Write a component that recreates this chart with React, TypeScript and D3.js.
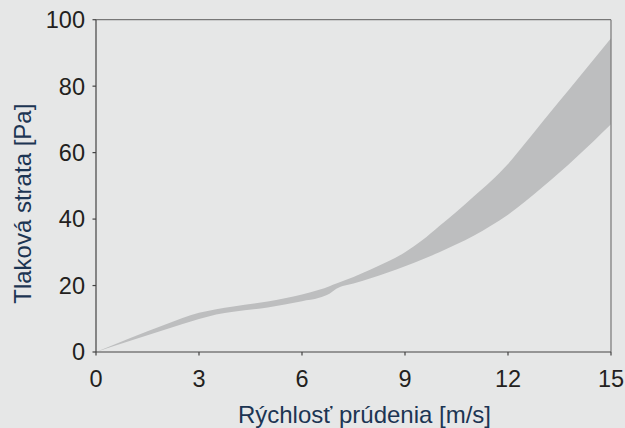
import React from "react";
import * as d3 from "d3";

const speeds = [0, 1, 2, 3, 3.5, 4, 5, 6, 6.5, 6.8, 7, 7.5, 8, 8.5, 9, 9.5, 10, 10.5, 11, 11.5, 12, 12.5, 13, 13.5, 14, 14.5, 15];
const upperLoss = [0, 4.2, 8.2, 11.8, 12.9, 13.7, 15.2, 17.3, 18.7, 19.8, 20.6, 22.6, 24.8, 27.2, 30.0, 33.6, 37.9, 42.2, 46.8, 51.4, 56.6, 62.8, 69.2, 75.5, 81.8, 88.1, 94.4];
const lowerLoss = [0, 3.4, 6.7, 9.9, 11.3, 12.1, 13.4, 15.3, 16.3, 17.5, 19.0, 20.6, 22.2, 23.9, 25.8, 27.8, 30.0, 32.4, 35.0, 38.0, 41.3, 45.3, 49.6, 54.0, 58.7, 63.5, 68.5];
const xTicks = [0, 3, 6, 9, 12, 15];
const yTicks = [0, 20, 40, 60, 80, 100];
const xTitle = "Rýchlosť prúdenia [m/s]";
const yTitle = "Tlaková strata [Pa]";

const W = 625;
const H = 428;
const M = { left: 96, right: 611, top: 19.7, bottom: 352 };
const FONT = "'Liberation Sans', Arial, sans-serif";

export default function App() {
  const x = d3.scaleLinear().domain([0, 15]).range([M.left, M.right]);
  const y = d3.scaleLinear().domain([0, 100]).range([M.bottom, M.top]);
  const band = speeds.map((s, i) => ({ s, lo: lowerLoss[i], hi: upperLoss[i] }));
  const area = d3
    .area<{ s: number; lo: number; hi: number }>()
    .x((d) => x(d.s))
    .y0((d) => y(d.lo))
    .y1((d) => y(d.hi))
    .curve(d3.curveMonotoneX);

  return (
    <svg width={W} height={H} style={{ position: "absolute", left: 0, top: 0 }}>
      <rect x={0} y={0} width={W} height={H} fill="#e6e7e7" />
      <path d={area(band) || ""} fill="#bdbebf" />
      <line x1={M.left} x2={M.right} y1={M.top} y2={M.top} stroke="#777" strokeWidth={1.2} />
      <line x1={M.right} x2={M.right} y1={M.top} y2={M.bottom} stroke="#777" strokeWidth={1.2} />
      <line x1={M.left} x2={M.left} y1={M.top} y2={M.bottom} stroke="#444" strokeWidth={1.2} />
      <line x1={M.left} x2={M.right} y1={M.bottom} y2={M.bottom} stroke="#444" strokeWidth={1.2} />
      {xTicks.map((t) => (
        <g key={"x" + t}>
          <line x1={x(t)} x2={x(t)} y1={M.bottom} y2={M.bottom + 3.5} stroke="#444" strokeWidth={1.2} />
          <text x={x(t)} y={386.5} textAnchor="middle" fontFamily={FONT} fontSize={23.5} fill="#231f20">
            {t}
          </text>
        </g>
      ))}
      {yTicks.map((t) => (
        <g key={"y" + t}>
          <line x1={M.left - 3.5} x2={M.left} y1={y(t)} y2={y(t)} stroke="#444" strokeWidth={1.2} />
          <text x={85} y={y(t) + 8.4} textAnchor="end" fontFamily={FONT} fontSize={23.5} fill="#231f20">
            {t}
          </text>
        </g>
      ))}
      <text x={364.5} y={422.5} textAnchor="middle" fontFamily={FONT} fontSize={24} fill="#1c3553">
        {xTitle}
      </text>
      <text
        transform={`translate(30.5,203.7) rotate(-90)`}
        textAnchor="middle"
        fontFamily={FONT}
        fontSize={24}
        fill="#1c3553"
      >
        {yTitle}
      </text>
    </svg>
  );
}
